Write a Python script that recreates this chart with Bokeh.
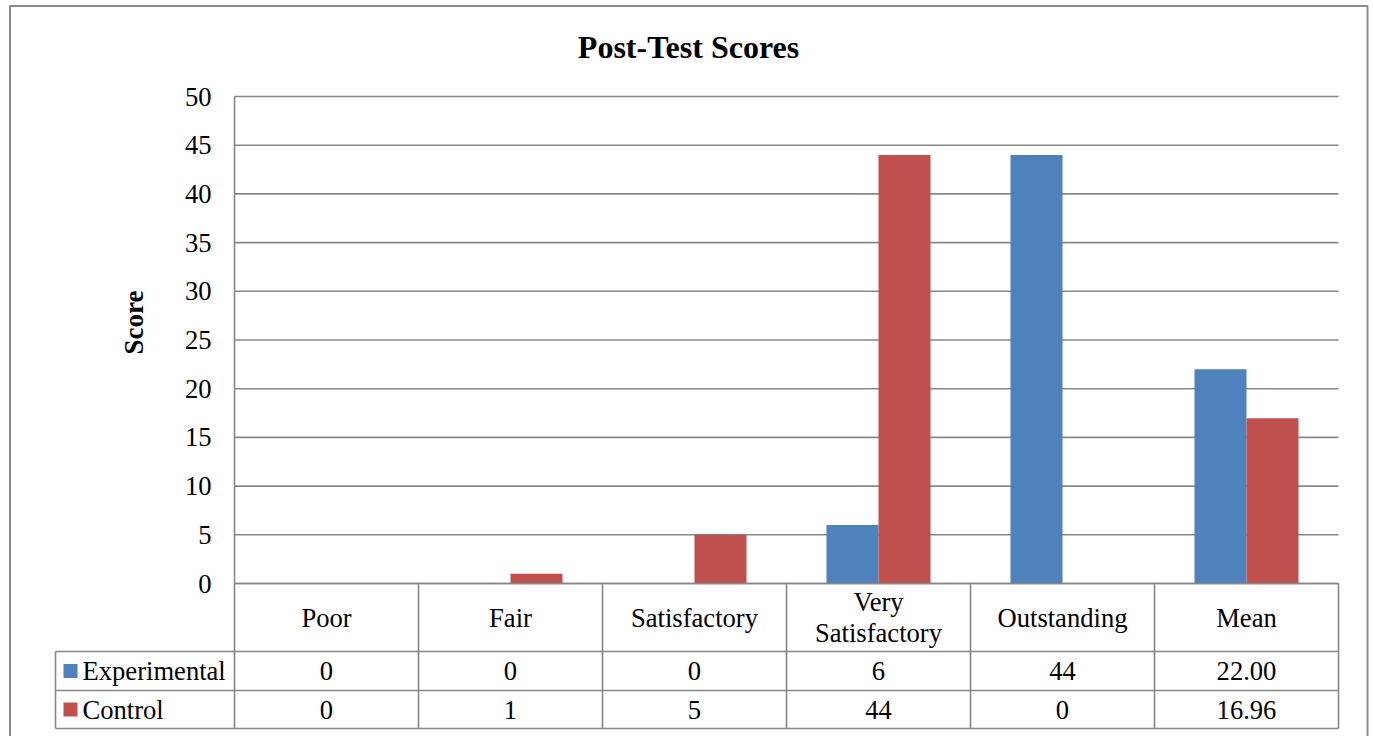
from bokeh.plotting import figure
from bokeh.models import Range1d
from bokeh.embed import file_html
from bokeh.resources import INLINE
from bokeh.core.properties import value

# ---------------- data ----------------
categories = ["Poor", "Fair", "Satisfactory", "Very Satisfactory", "Outstanding", "Mean"]
experimental = [0, 0, 0, 6, 44, 22.00]
control = [0, 1, 5, 44, 0, 16.96]
series_names = ["Experimental", "Control"]
y_ticks = [0, 5, 10, 15, 20, 25, 30, 35, 40, 45, 50]
title_text = "Post-Test Scores"
y_label = "Score"

# ---------------- style ----------------
BLUE = "#4F81BD"
RED = "#C0504D"
GRID = "#878787"
BORDER = "#8a8a8a"
FONT = value("Liberation Serif")
FS = "26.6px"

W, H = 1370, 736
ORG = 0  # canvas origin on the page
# layout (page pixels) -> data helpers
PX0, CAT_W, PY0, PX_PER = 234.0, 184.0, 583.0, 9.74


def ux(px):
    return (px - PX0) / CAT_W


def vy(py):
    return (PY0 - py) / PX_PER


p = figure(width=W, height=H, output_backend="svg", toolbar_location=None,
           x_range=Range1d(ux(ORG), ux(ORG + W)), y_range=Range1d(vy(ORG + H), vy(ORG)),
           x_axis_location=None, y_axis_location=None, min_border=0)
p.outline_line_color = None
p.grid.visible = False
p.background_fill_color = "white"
p.border_fill_color = "white"

n = len(categories)
ymax = y_ticks[-1]

# gridlines (behind bars)
p.segment(x0=[0] * len(y_ticks), x1=[n] * len(y_ticks), y0=y_ticks, y1=y_ticks,
          line_color=GRID, line_width=1.6)

# bars
bw = 52.0 / CAT_W
xs = [i + 0.5 for i in range(n)]
p.vbar(x=[x - bw / 2 for x in xs], top=experimental, width=bw, bottom=0,
       fill_color=BLUE, line_color=None)
p.vbar(x=[x + bw / 2 for x in xs], top=control, width=bw, bottom=0,
       fill_color=RED, line_color=None)

# y tick labels
p.text(x=[ux(211)] * len(y_ticks), y=y_ticks, text=[str(t) for t in y_ticks],
       text_font=FONT, text_font_size=FS, text_align="right",
       text_baseline="middle", text_color="black")

# axis title
p.text(x=[ux(133)], y=[vy(322)], text=[y_label], angle=1.5707963,
       text_font=FONT, text_font_size="27px", text_font_style="bold",
       text_align="center", text_baseline="middle", text_color="black")

# chart title
p.text(x=[ux(688)], y=[vy(46)], text=[title_text],
       text_font=FONT, text_font_size="32px", text_font_style="bold",
       text_align="center", text_baseline="middle", text_color="black")

# ---------------- data table ----------------
r0, r1, r2 = vy(651), vy(690), vy(728)
leg_l = ux(55)
# horizontal lines
p.segment(x0=[0, leg_l, leg_l, leg_l], x1=[n] * 4, y0=[0, r0, r1, r2], y1=[0, r0, r1, r2],
          line_color=GRID, line_width=1.6)
# vertical lines
p.segment(x0=[0], x1=[0], y0=[ymax], y1=[r2], line_color=GRID, line_width=1.6)
p.segment(x0=list(range(1, n + 1)), x1=list(range(1, n + 1)),
          y0=[0] * n, y1=[r2] * n, line_color=GRID, line_width=1.6)
p.segment(x0=[leg_l], x1=[leg_l], y0=[r0], y1=[r2], line_color=GRID, line_width=1.6)

# category labels
cat_labels = [c.replace("Very ", "Very\n") for c in categories]
p.text(x=xs, y=[vy(617)] * n, text=cat_labels, text_font=FONT, text_font_size=FS,
       text_align="center", text_baseline="middle", text_line_height=1.06,
       text_color="black")


def fmt(cat, v):
    return f"{v:.2f}" if cat == "Mean" else f"{v:g}"


row_y = [vy(670.5), vy(709)]
for vals, ry in zip([experimental, control], row_y):
    p.text(x=xs, y=[ry] * n, text=[fmt(c, v) for c, v in zip(categories, vals)],
           text_font=FONT, text_font_size=FS, text_align="center",
           text_baseline="middle", text_color="black")

# legend keys in table
p.rect(x=[ux(70)] * 2, y=row_y, width=14, height=14, width_units="screen",
       height_units="screen", fill_color=[BLUE, RED], line_color=None)
p.text(x=[ux(82)] * 2, y=row_y, text=series_names, text_font=FONT,
       text_font_size=FS, text_align="left", text_baseline="middle",
       text_color="black")

# outer chart border (left, top, right; bottom is beyond view)
bl, br, bt, bb = ux(9.5), ux(1367), vy(5.5), vy(800)
p.line(x=[bl, bl, br, br], y=[bb, bt, bt, bb], line_color=BORDER, line_width=2)

open("out.html", "w").write(file_html(p, INLINE))
